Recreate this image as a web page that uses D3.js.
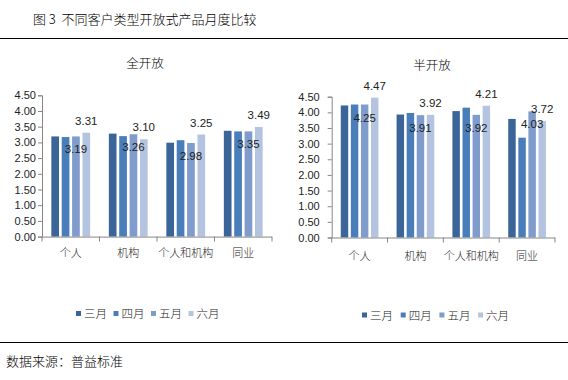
<!DOCTYPE html>
<html><head><meta charset="utf-8">
<script src="https://cdn.jsdelivr.net/npm/d3@7"></script>
<style>
body{margin:0;background:#fff;}
svg{display:block;font-family:"Liberation Sans","Noto Sans CJK SC",sans-serif;}
</style></head>
<body><svg id="c" width="568" height="380"></svg>
<script>
const categories = ["个人","机构","个人和机构","同业"];
const seriesNames = ["三月","四月","五月","六月"];
const fullOpen = [
  [3.19, 3.17, 3.19, 3.31],
  [3.28, 3.20, 3.26, 3.10],
  [2.99, 3.07, 2.98, 3.25],
  [3.37, 3.35, 3.35, 3.49]
];
const halfOpen = [
  [4.22, 4.25, 4.25, 4.47],
  [3.93, 3.98, 3.91, 3.92],
  [4.04, 4.15, 3.92, 4.21],
  [3.79, 3.19, 4.03, 3.72]
];
const yTicks = [0,0.5,1,1.5,2,2.5,3,3.5,4,4.5];
const colors = ["#3B6499","#4A7EBB","#7F9CCC","#B4C4E0"];
const titleText = "图 3  不同客户类型开放式产品月度比较";
const sourceText = "数据来源：普益标准";
const chartTitles = ["全开放","半开放"];

const svg = d3.select("#c");
const cjk = '"Noto Sans CJK SC",sans-serif';

svg.append("text").attr("x",33).attr("y",24).attr("font-family",cjk).attr("font-weight",300)
  .attr("font-size",13).attr("fill","#000").attr("xml:space","preserve").style("white-space","pre").text(titleText);
svg.append("line").attr("x1",0).attr("x2",568).attr("y1",38.5).attr("y2",38.5).attr("stroke","#000").attr("stroke-width",1.2);
svg.append("line").attr("x1",0).attr("x2",568).attr("y1",342.5).attr("y2",342.5).attr("stroke","#000").attr("stroke-width",1.2);
svg.append("text").attr("x",6).attr("y",366).attr("font-family",cjk).attr("font-weight",300)
  .attr("font-size",13).attr("fill","#000").text(sourceText);

function drawChart(cfg){
  const {data, title, x0, x1, yBottom, yTop, titleX, titleY, tickPad, legendX, legendY, legendStep, catY} = cfg;
  const g = svg.append("g");
  const x = d3.scaleBand().domain(categories).range([x0,x1]).paddingInner(0).paddingOuter(0);
  const xs = d3.scaleBand().domain(seriesNames).range([0,x.bandwidth()]).paddingInner(0.26).paddingOuter(0.9);
  const y = d3.scaleLinear().domain([0,4.5]).range([yBottom,yTop]);

  g.append("text").attr("x",titleX).attr("y",titleY).attr("text-anchor","middle")
    .attr("font-family",cjk).attr("font-weight",300).attr("font-size",12.5).attr("fill","#000").text(title);

  categories.forEach((c,ci)=>{
    seriesNames.forEach((s,si)=>{
      const v = data[ci][si];
      g.append("rect").attr("x",x(c)+xs(s)).attr("width",xs.bandwidth())
        .attr("y",y(v)).attr("height",y(0)-y(v)).attr("fill",colors[si]);
    });
    const v5 = data[ci][2], v6 = data[ci][3];
    g.append("text").attr("x",x(c)+xs(seriesNames[2])+xs.bandwidth()/2).attr("y",y(v5)+17)
      .attr("text-anchor","middle").attr("font-size",11.5).attr("fill","#222").text(v5.toFixed(2));
    g.append("text").attr("x",x(c)+xs(seriesNames[3])+xs.bandwidth()/2).attr("y",y(v6)-8)
      .attr("text-anchor","middle").attr("font-size",11.5).attr("fill","#222").text(v6.toFixed(2));
  });

  const ya = d3.axisLeft(y).tickValues(yTicks).tickFormat(d3.format(".2f")).tickSize(4).tickPadding(tickPad);
  const yg = g.append("g").attr("transform",`translate(${x0},0)`).call(ya);
  yg.select(".domain").attr("stroke","#868686");
  yg.selectAll(".tick line").attr("stroke","#868686");
  yg.selectAll(".tick text").attr("font-size",11).attr("fill","#222").attr("font-family",'"Liberation Sans",sans-serif');

  const xg = g.append("g").attr("transform",`translate(0,${yBottom})`);
  xg.append("line").attr("x1",x0).attr("x2",x1).attr("y1",0.5).attr("y2",0.5).attr("stroke","#868686");
  const bounds = categories.map(c=>x(c)).concat([x1]);
  bounds.forEach(b=>{
    xg.append("line").attr("x1",b).attr("x2",b).attr("y1",0).attr("y2",5).attr("stroke","#868686");
  });
  categories.forEach(c=>{
    xg.append("text").attr("x",x(c)+x.bandwidth()/2).attr("y",catY-yBottom+4)
      .attr("text-anchor","middle").attr("font-family",cjk).attr("font-weight",300).attr("font-size",11).attr("fill","#222").text(c);
  });

  seriesNames.forEach((s,si)=>{
    const lx = legendX + si*legendStep;
    g.append("rect").attr("x",lx).attr("y",legendY-3).attr("width",5).attr("height",5).attr("fill",colors[si]);
    g.append("text").attr("x",lx+8).attr("y",legendY+4).attr("font-family",cjk).attr("font-weight",300).attr("font-size",11.5)
      .attr("fill","#222").text(s);
  });
}

drawChart({data:fullOpen, title:chartTitles[0], x0:42, x1:272, yBottom:236.6, yTop:95.3,
  titleX:145, titleY:68, tickPad:2, legendX:76, legendY:314, legendStep:37.5, catY:253});
drawChart({data:halfOpen, title:chartTitles[1], x0:331.7, x1:555, yBottom:237.5, yTop:96.7,
  titleX:432, titleY:70, tickPad:8, legendX:362, legendY:315.5, legendStep:38.7, catY:256});
</script></body></html>
